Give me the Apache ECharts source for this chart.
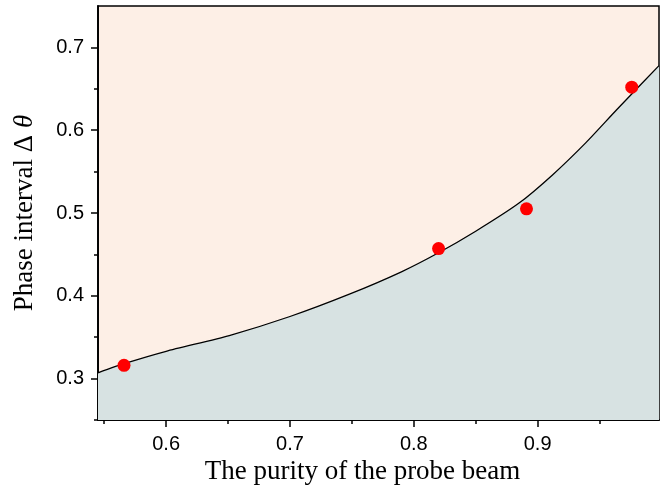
<!DOCTYPE html>
<html>
<head>
<meta charset="utf-8">
<script src="https://cdn.jsdelivr.net/npm/echarts@6/dist/echarts.min.js"></script>
<style>html,body{margin:0;padding:0;background:#fff}#c{width:667px;height:493px}</style>
</head>
<body>
<div id="c"></div>
<script>
// measured data points
const pointX = [0.566, 0.820, 0.891, 0.976];
const pointY = [0.316, 0.457, 0.505, 0.652];
// fitted curve
const curveX = [0.545, 0.566, 0.600, 0.651, 0.700, 0.748, 0.790, 0.820, 0.850, 0.885, 0.912, 0.939, 0.964, 0.998];
const curveY = [0.307, 0.318, 0.333, 0.352, 0.375, 0.402, 0.429, 0.452, 0.478, 0.512, 0.546, 0.585, 0.625, 0.678];
// ticks
const xMajor = [0.6, 0.7, 0.8, 0.9];
const xMinor = [0.55, 0.65, 0.75, 0.85, 0.95];
const yMajor = [0.3, 0.4, 0.5, 0.6, 0.7];
const yMinor = [0.25, 0.35, 0.45, 0.55, 0.65];

const chart = echarts.init(document.getElementById('c'));
const sans = 'Liberation Sans';
const serif = 'Liberation Serif';
const axisLine = {show: true, lineStyle: {color: '#000', width: 1.5}};
const xBase = {type: 'value', min: 0.545, max: 0.998, position: 'bottom', splitLine: {show: false}, axisLine: axisLine};
const yBase = {type: 'value', min: 0.25, max: 0.75, position: 'left', splitLine: {show: false}, axisLine: axisLine};
chart.setOption({
  animation: false,
  grid: {left: 98, right: 8, top: 6, bottom: 73, show: true, backgroundColor: '#fdefe6', borderColor: '#000', borderWidth: 1.5},
  xAxis: [
    Object.assign({}, xBase, {
      name: 'The purity of the probe beam', nameLocation: 'middle', nameGap: 35,
      nameTextStyle: {fontFamily: serif, fontSize: 27, color: '#000', padding: [0, 32, 0, 0]},
      axisTick: {show: true, length: 7, customValues: xMajor, lineStyle: {color: '#000', width: 1.5}},
      axisLabel: {customValues: xMajor, margin: 14, fontFamily: sans, fontSize: 20, color: '#000', formatter: v => v.toFixed(1)}
    }),
    Object.assign({}, xBase, {
      axisTick: {show: true, length: 4, customValues: xMinor, lineStyle: {color: '#000', width: 1.5}},
      axisLabel: {show: false}
    })
  ],
  yAxis: [
    Object.assign({}, yBase, {
      name: 'Phase interval Δ {i|θ}', nameLocation: 'middle', nameGap: 60,
      nameTextStyle: {fontFamily: serif, fontSize: 27, color: '#000', rich: {i: {fontFamily: serif, fontStyle: 'italic', fontSize: 27, color: '#000'}}},
      axisTick: {show: true, length: 7, customValues: yMajor, lineStyle: {color: '#000', width: 1.5}},
      axisLabel: {customValues: yMajor, margin: 14, fontFamily: sans, fontSize: 20, color: '#000', formatter: v => v.toFixed(1)}
    }),
    Object.assign({}, yBase, {
      axisTick: {show: true, length: 4, customValues: yMinor, lineStyle: {color: '#000', width: 1.5}},
      axisLabel: {show: false}
    })
  ],
  series: [
    {
      type: 'line', xAxisIndex: 0, yAxisIndex: 0,
      data: curveX.map((x, i) => [x, curveY[i]]),
      smooth: 0.2, showSymbol: false, symbol: 'none',
      lineStyle: {color: '#000', width: 1.3},
      areaStyle: {color: '#d7e2e2', opacity: 1, origin: 'start'},
      z: 2
    },
    {
      type: 'scatter', xAxisIndex: 0, yAxisIndex: 0,
      data: pointX.map((x, i) => [x, pointY[i]]),
      symbol: 'circle', symbolSize: 13,
      itemStyle: {color: '#ff0000', opacity: 1},
      z: 3
    }
  ]
});
</script>
</body>
</html>
